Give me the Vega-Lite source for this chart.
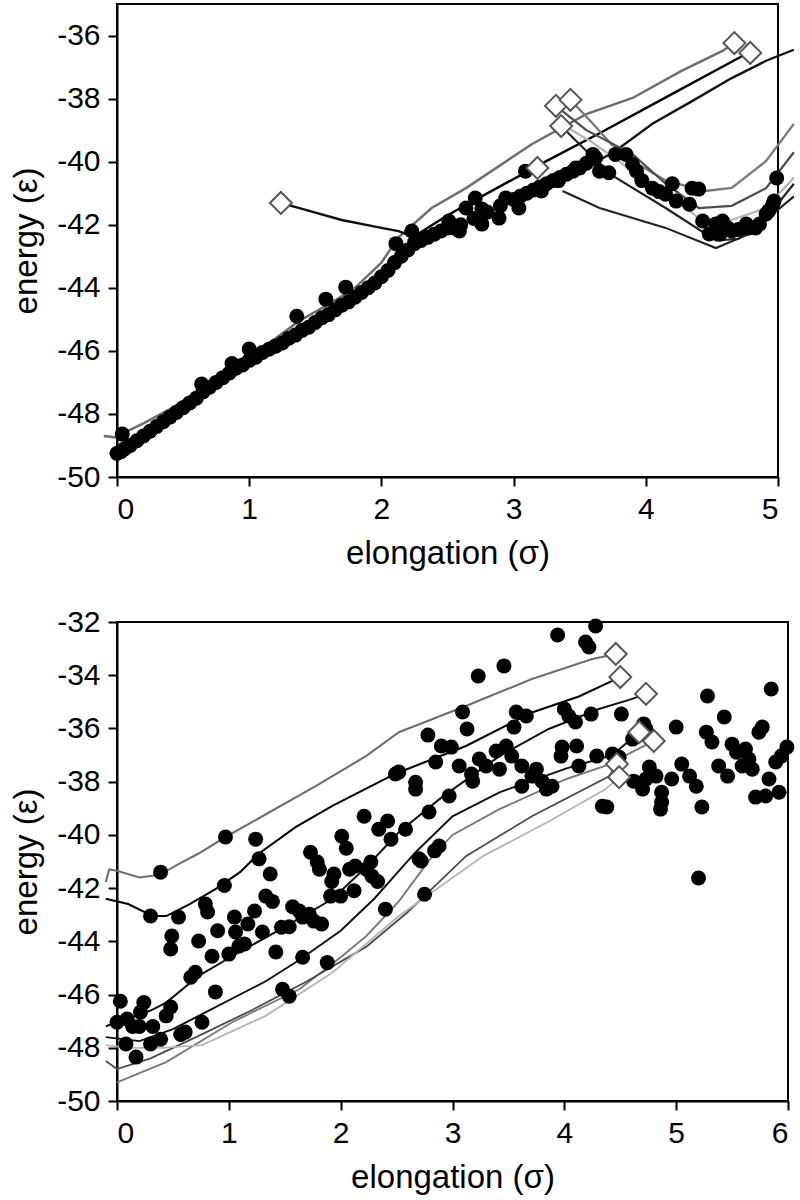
{
  "$schema": "https://vega.github.io/schema/vega-lite/v6.json",
  "background": "white",
  "padding": {"left": 9, "top": 3, "right": 5, "bottom": 5},
  "config": {
    "view": {"stroke": "black", "strokeWidth": 2},
    "axis": {"domainColor": "black", "domainWidth": 2, "tickColor": "black", "tickWidth": 2, "tickSize": 9, "grid": false,
      "labelFont": "Liberation Sans", "labelFontSize": 30, "labelColor": "black", "labelPadding": 8,
      "titleFont": "Liberation Sans", "titleFontSize": 33, "titleFontWeight": "normal", "titleColor": "black", "titlePadding": 13,
      "labelExpr": "'' + datum.value"},
    "concat": {"spacing": 35}
  },
  "datasets": {
    "a_dots": [
      {"x":0.00,"y":-49.25},{"x":0.03,"y":-49.2},{"x":0.06,"y":-49.1},{"x":0.10,"y":-49.0},{"x":0.15,"y":-48.85},{"x":0.20,"y":-48.7},{"x":0.25,"y":-48.55},{"x":0.30,"y":-48.4},{"x":0.35,"y":-48.25},{"x":0.40,"y":-48.1},{"x":0.45,"y":-47.95},{"x":0.50,"y":-47.8},{"x":0.55,"y":-47.65},{"x":0.60,"y":-47.5},{"x":0.65,"y":-47.3},{"x":0.70,"y":-47.15},{"x":0.75,"y":-47.0},{"x":0.80,"y":-46.85},{"x":0.85,"y":-46.7},{"x":0.90,"y":-46.55},{"x":0.95,"y":-46.45},{"x":1.00,"y":-46.3},{"x":1.05,"y":-46.2},{"x":1.10,"y":-46.05},{"x":1.15,"y":-45.95},{"x":1.20,"y":-45.85},{"x":1.25,"y":-45.75},{"x":1.30,"y":-45.6},{"x":1.35,"y":-45.5},{"x":1.40,"y":-45.35},{"x":1.45,"y":-45.25},{"x":1.50,"y":-45.1},{"x":1.55,"y":-44.95},{"x":1.60,"y":-44.85},{"x":1.65,"y":-44.7},{"x":1.70,"y":-44.55},{"x":1.75,"y":-44.45},{"x":1.80,"y":-44.3},{"x":1.85,"y":-44.15},{"x":1.90,"y":-44.0},{"x":1.95,"y":-43.85},{"x":2.00,"y":-43.65},{"x":2.05,"y":-43.45},{"x":2.10,"y":-43.2},{"x":2.15,"y":-43.0},{"x":2.20,"y":-42.8},{"x":2.25,"y":-42.6},{"x":2.30,"y":-42.5},{"x":2.35,"y":-42.4},{"x":2.40,"y":-42.3},{"x":2.45,"y":-42.2},{"x":2.50,"y":-42.1},{"x":2.55,"y":-42.1},{"x":2.60,"y":-42.0},{"x":2.70,"y":-41.8},{"x":2.80,"y":-41.6},{"x":2.90,"y":-41.4},{"x":3.00,"y":-41.2},{"x":3.05,"y":-41.1},{"x":3.10,"y":-41.0},{"x":3.15,"y":-40.9},{"x":3.20,"y":-40.8},{"x":3.25,"y":-40.7},{"x":3.30,"y":-40.6},{"x":3.35,"y":-40.5},{"x":3.40,"y":-40.4},{"x":3.45,"y":-40.3},{"x":3.50,"y":-40.2},{"x":3.55,"y":-40.05},{"x":3.60,"y":-39.9},
      {"x":0.04,"y":-48.64},{"x":0.64,"y":-47.05},{"x":0.87,"y":-46.4},{"x":1.0,"y":-45.94},{"x":1.36,"y":-44.9},{"x":1.58,"y":-44.36},{"x":1.73,"y":-43.98},{"x":2.11,"y":-42.6},{"x":2.23,"y":-42.2},{"x":2.51,"y":-41.88},{"x":2.59,"y":-42.2},{"x":2.64,"y":-41.47},{"x":2.71,"y":-41.15},{"x":2.76,"y":-41.5},{"x":2.76,"y":-41.98},{"x":2.89,"y":-41.79},{"x":2.94,"y":-41.15},{"x":3.04,"y":-41.47},{"x":3.09,"y":-40.3},{"x":3.21,"y":-40.93},{"x":3.34,"y":-40.6},{"x":3.47,"y":-40.2},{"x":3.62,"y":-39.88},{"x":3.6,"y":-39.77},{"x":3.65,"y":-40.3},{"x":3.72,"y":-40.35},{"x":3.77,"y":-39.77},{"x":3.85,"y":-39.77},{"x":3.9,"y":-40.08},{"x":3.93,"y":-40.3},{"x":3.97,"y":-40.6},{"x":4.05,"y":-40.84},{"x":4.1,"y":-40.95},{"x":4.15,"y":-41.03},{"x":4.2,"y":-40.7},{"x":4.23,"y":-41.25},{"x":4.33,"y":-41.35},{"x":4.35,"y":-40.84},{"x":4.4,"y":-40.87},{"x":4.43,"y":-41.88},{"x":4.48,"y":-42.29},{"x":4.53,"y":-41.98},{"x":4.56,"y":-42.3},{"x":4.58,"y":-41.88},{"x":4.62,"y":-42.1},{"x":4.65,"y":-42.2},{"x":4.7,"y":-42.15},{"x":4.76,"y":-41.98},{"x":4.78,"y":-42.1},{"x":4.83,"y":-42.1},{"x":4.86,"y":-41.98},{"x":4.91,"y":-41.66},{"x":4.93,"y":-41.56},{"x":4.96,"y":-41.35},{"x":4.97,"y":-41.25},{"x":4.99,"y":-40.52}
    ],
    "a_lines": [
      {"s":"up","x":-0.1,"y":-48.7},{"s":"up","x":0.0,"y":-48.75},{"s":"up","x":0.05,"y":-48.6},{"s":"up","x":0.2,"y":-48.3},{"s":"up","x":0.4,"y":-47.85},{"s":"up","x":0.62,"y":-47.27},{"s":"up","x":0.8,"y":-46.8},{"s":"up","x":1.0,"y":-46.15},{"s":"up","x":1.2,"y":-45.6},{"s":"up","x":1.38,"y":-45.05},{"s":"up","x":1.63,"y":-44.45},{"s":"up","x":1.8,"y":-44.0},{"s":"up","x":2.0,"y":-43.2},{"s":"up","x":2.13,"y":-42.4},{"s":"up","x":2.38,"y":-41.47},{"s":"up","x":2.64,"y":-40.84},{"s":"up","x":3.14,"y":-39.44},{"s":"up","x":3.55,"y":-38.49},{"s":"up","x":3.9,"y":-37.98},{"s":"up","x":4.27,"y":-37.12},{"s":"up","x":4.58,"y":-36.49},{"s":"up","x":4.67,"y":-36.24},
      {"s":"jag","x":2.2,"y":-42.5},{"s":"jag","x":2.5,"y":-41.7},{"s":"jag","x":2.79,"y":-41.03},{"s":"jag","x":3.24,"y":-40.0},{"s":"jag","x":3.65,"y":-39.1},{"s":"jag","x":4.2,"y":-37.85},{"s":"jag","x":4.73,"y":-36.65},{"s":"jag","x":4.79,"y":-36.55},
      {"s":"conn","x":1.24,"y":-41.31},{"s":"conn","x":1.4,"y":-41.5},{"s":"conn","x":1.7,"y":-41.85},{"s":"conn","x":2.0,"y":-42.1},{"s":"conn","x":2.13,"y":-42.2},{"s":"conn","x":2.25,"y":-42.4},
      {"s":"blk","x":3.5,"y":-40.3},{"s":"blk","x":3.77,"y":-39.66},{"s":"blk","x":4.05,"y":-38.8},{"s":"blk","x":4.35,"y":-38.08},{"s":"blk","x":4.65,"y":-37.35},{"s":"blk","x":4.91,"y":-36.8},{"s":"blk","x":5.12,"y":-36.45},
      {"s":"g1","x":3.43,"y":-38.04},{"s":"g1","x":3.6,"y":-38.8},{"s":"g1","x":3.74,"y":-39.45},{"s":"g1","x":3.95,"y":-40.1},{"s":"g1","x":4.15,"y":-40.6},{"s":"g1","x":4.45,"y":-40.93},{"s":"g1","x":4.65,"y":-40.83},{"s":"g1","x":4.91,"y":-39.98},{"s":"g1","x":5.12,"y":-38.8},
      {"s":"g2","x":3.32,"y":-38.23},{"s":"g2","x":3.55,"y":-39.0},{"s":"g2","x":3.9,"y":-39.76},{"s":"g2","x":4.15,"y":-40.7},{"s":"g2","x":4.4,"y":-41.47},{"s":"g2","x":4.65,"y":-41.4},{"s":"g2","x":4.91,"y":-40.84},{"s":"g2","x":5.12,"y":-39.7},
      {"s":"g3","x":3.4,"y":-38.9},{"s":"g3","x":3.6,"y":-39.4},{"s":"g3","x":3.9,"y":-40.3},{"s":"g3","x":4.2,"y":-41.1},{"s":"g3","x":4.4,"y":-41.8},{"s":"g3","x":4.65,"y":-41.85},{"s":"g3","x":4.91,"y":-41.47},{"s":"g3","x":5.12,"y":-40.5},
      {"s":"b1","x":3.36,"y":-38.87},{"s":"b1","x":3.55,"y":-39.66},{"s":"b1","x":3.77,"y":-40.5},{"s":"b1","x":4.15,"y":-41.47},{"s":"b1","x":4.53,"y":-42.5},{"s":"b1","x":4.7,"y":-42.45},{"s":"b1","x":4.91,"y":-41.8},{"s":"b1","x":5.12,"y":-40.7},
      {"s":"b2","x":3.37,"y":-40.93},{"s":"b2","x":3.65,"y":-41.47},{"s":"b2","x":4.15,"y":-42.1},{"s":"b2","x":4.53,"y":-42.74},{"s":"b2","x":4.78,"y":-42.3},{"s":"b2","x":5.12,"y":-41.1}
    ],
    "a_diam": [
      {"x":1.24,"y":-41.31},{"x":3.18,"y":-40.2},{"x":3.32,"y":-38.23},{"x":3.36,"y":-38.87},{"x":3.43,"y":-38.04},{"x":4.67,"y":-36.24},{"x":4.79,"y":-36.55}
    ],
    "b_dots": [
      {"x":0.03,"y":-46.25},{"x":0.0,"y":-47.04},{"x":0.09,"y":-46.92},{"x":0.14,"y":-47.2},{"x":0.2,"y":-47.2},{"x":0.24,"y":-46.3},{"x":0.21,"y":-46.66},{"x":0.08,"y":-47.86},{"x":0.17,"y":-48.35},{"x":0.32,"y":-47.2},{"x":0.3,"y":-47.86},{"x":0.39,"y":-47.68},{"x":0.44,"y":-46.8},{"x":0.48,"y":-46.47},{"x":0.57,"y":-47.5},{"x":0.61,"y":-47.41},{"x":0.76,"y":-47.04},{"x":0.88,"y":-45.9},{"x":0.66,"y":-45.35},{"x":0.7,"y":-45.16},{"x":0.85,"y":-44.56},{"x":1.0,"y":-44.48},{"x":1.09,"y":-44.18},{"x":1.14,"y":-44.1},{"x":0.73,"y":-43.99},{"x":0.48,"y":-44.29},{"x":0.49,"y":-43.8},{"x":0.55,"y":-43.09},{"x":0.3,"y":-43.05},{"x":0.39,"y":-41.4},{"x":0.79,"y":-42.6},{"x":0.81,"y":-42.9},{"x":0.9,"y":-43.6},{"x":1.05,"y":-43.09},{"x":1.06,"y":-43.65},{"x":0.96,"y":-41.9},{"x":1.17,"y":-43.35},{"x":1.23,"y":-42.86},{"x":1.3,"y":-43.65},{"x":1.27,"y":-40.9},{"x":1.37,"y":-41.47},{"x":1.33,"y":-42.3},{"x":1.39,"y":-42.5},{"x":1.42,"y":-44.4},{"x":1.47,"y":-43.47},{"x":1.54,"y":-43.45},{"x":1.57,"y":-42.7},{"x":1.63,"y":-42.86},{"x":1.66,"y":-43.09},{"x":1.72,"y":-42.98},{"x":1.76,"y":-43.24},{"x":1.83,"y":-43.35},{"x":1.48,"y":-45.8},{"x":1.54,"y":-46.06},{"x":1.66,"y":-44.6},{"x":1.88,"y":-44.8},{"x":1.73,"y":-40.65},{"x":1.79,"y":-41.02},{"x":1.81,"y":-41.29},{"x":1.94,"y":-41.47},{"x":1.92,"y":-41.75},{"x":1.91,"y":-42.3},{"x":2.0,"y":-42.3},{"x":2.08,"y":-41.29},{"x":2.13,"y":-41.17},{"x":2.12,"y":-42.1},{"x":2.23,"y":-41.29},{"x":2.27,"y":-41.02},{"x":2.28,"y":-41.55},{"x":2.33,"y":-41.75},{"x":2.4,"y":-42.79},{"x":2.05,"y":-40.5},
      {"x":2.72,"y":-40.98},{"x":2.75,"y":-42.23},{"x":2.84,"y":-40.6},{"x":5.2,"y":-41.62},
      {"x":0.97,"y":-40.08},{"x":1.24,"y":-40.16},{"x":2.01,"y":-40.05},{"x":2.21,"y":-39.3},{"x":2.34,"y":-39.79},{"x":2.42,"y":-39.48},{"x":2.45,"y":-40.16},{"x":2.49,"y":-37.71},
      {"x":4.28,"y":-32.15},{"x":3.94,"y":-32.49},{"x":4.19,"y":-32.75},{"x":4.22,"y":-32.94},{"x":3.46,"y":-33.65},{"x":3.23,"y":-34.03},{"x":3.09,"y":-35.38},{"x":3.13,"y":-36.02},{"x":2.78,"y":-36.25},{"x":3.55,"y":-35.95},{"x":3.57,"y":-35.38},{"x":3.66,"y":-35.53},{"x":4.0,"y":-35.27},{"x":4.04,"y":-35.53},{"x":4.1,"y":-35.76},{"x":4.24,"y":-35.46},{"x":4.51,"y":-35.46},{"x":4.71,"y":-35.83},{"x":2.9,"y":-36.66},{"x":2.99,"y":-36.7},{"x":2.85,"y":-37.26},{"x":3.06,"y":-37.41},{"x":3.17,"y":-37.71},{"x":3.24,"y":-37.15},{"x":3.3,"y":-37.41},{"x":3.39,"y":-36.85},{"x":3.48,"y":-36.66},{"x":3.53,"y":-37.04},{"x":3.42,"y":-37.53},{"x":3.62,"y":-37.41},{"x":3.75,"y":-37.53},{"x":3.71,"y":-37.79},{"x":3.8,"y":-37.98},{"x":3.84,"y":-38.28},{"x":3.89,"y":-38.17},{"x":3.62,"y":-38.17},{"x":3.18,"y":-37.98},{"x":2.67,"y":-38.02},{"x":2.67,"y":-38.28},{"x":2.52,"y":-37.64},{"x":3.98,"y":-36.7},{"x":4.11,"y":-36.66},{"x":3.97,"y":-37.04},{"x":4.13,"y":-37.41},{"x":4.29,"y":-37.04},{"x":4.43,"y":-36.96},{"x":4.49,"y":-37.08},{"x":4.61,"y":-36.4},{"x":4.73,"y":-36.02},{"x":4.62,"y":-37.98},{"x":4.76,"y":-37.45},{"x":4.73,"y":-37.9},{"x":4.82,"y":-37.79},{"x":5.0,"y":-35.95},{"x":5.05,"y":-37.34},{"x":4.96,"y":-37.9},{"x":5.12,"y":-37.79},{"x":5.18,"y":-38.17},{"x":4.7,"y":-38.28},{"x":4.87,"y":-38.4},{"x":4.87,"y":-38.77},{"x":4.86,"y":-39.03},{"x":4.34,"y":-38.92},{"x":4.38,"y":-38.95},{"x":5.23,"y":-38.95},{"x":5.28,"y":-34.78},{"x":5.43,"y":-35.57},{"x":5.27,"y":-36.14},{"x":5.32,"y":-36.51},{"x":5.38,"y":-37.41},{"x":5.46,"y":-37.79},{"x":5.5,"y":-36.59},{"x":5.54,"y":-36.89},{"x":5.62,"y":-36.77},{"x":5.59,"y":-37.41},{"x":5.68,"y":-37.53},{"x":5.65,"y":-37.15},{"x":5.74,"y":-36.14},{"x":5.77,"y":-35.95},{"x":5.85,"y":-34.52},{"x":5.83,"y":-37.9},{"x":5.71,"y":-38.58},{"x":5.8,"y":-38.54},{"x":5.92,"y":-38.4},{"x":5.89,"y":-37.26},{"x":5.94,"y":-37.04},{"x":5.99,"y":-36.7},
      {"x":2.58,"y":-39.79},{"x":2.7,"y":-40.9},{"x":2.79,"y":-39.14},{"x":2.88,"y":-40.42},{"x":2.97,"y":-38.54}
    ],
    "b_lines": [
      {"s":"t1","x":-0.1,"y":-41.77},{"s":"t1","x":-0.07,"y":-41.3},{"s":"t1","x":0.0,"y":-41.35},{"s":"t1","x":0.2,"y":-41.6},{"s":"t1","x":0.38,"y":-41.5},{"s":"t1","x":0.55,"y":-41.1},{"s":"t1","x":0.73,"y":-40.7},{"s":"t1","x":0.97,"y":-40.08},{"s":"t1","x":1.3,"y":-39.3},{"s":"t1","x":1.78,"y":-38.16},{"s":"t1","x":2.23,"y":-37.03},{"s":"t1","x":2.52,"y":-36.14},{"s":"t1","x":3.12,"y":-35.16},{"s":"t1","x":3.71,"y":-34.14},{"s":"t1","x":4.25,"y":-33.39},{"s":"t1","x":4.46,"y":-33.2},
      {"s":"t2","x":-0.1,"y":-42.4},{"s":"t2","x":0.1,"y":-42.6},{"s":"t2","x":0.32,"y":-43.05},{"s":"t2","x":0.44,"y":-43.05},{"s":"t2","x":0.65,"y":-42.6},{"s":"t2","x":0.88,"y":-42.04},{"s":"t2","x":1.1,"y":-41.4},{"s":"t2","x":1.27,"y":-40.7},{"s":"t2","x":1.6,"y":-39.7},{"s":"t2","x":1.93,"y":-38.9},{"s":"t2","x":2.49,"y":-37.7},{"s":"t2","x":3.12,"y":-36.66},{"s":"t2","x":3.71,"y":-35.4},{"s":"t2","x":4.13,"y":-34.8},{"s":"t2","x":4.4,"y":-34.27},{"s":"t2","x":4.5,"y":-34.07},
      {"s":"m1","x":-0.1,"y":-47.19},{"s":"m1","x":0.1,"y":-46.9},{"s":"m1","x":0.3,"y":-46.6},{"s":"m1","x":0.44,"y":-46.3},{"s":"m1","x":0.73,"y":-45.3},{"s":"m1","x":1.03,"y":-44.56},{"s":"m1","x":1.48,"y":-43.5},{"s":"m1","x":1.93,"y":-42.4},{"s":"m1","x":2.23,"y":-41.2},{"s":"m1","x":2.52,"y":-39.9},{"s":"m1","x":2.9,"y":-38.6},{"s":"m1","x":3.42,"y":-37.04},{"s":"m1","x":3.86,"y":-36.02},{"s":"m1","x":4.31,"y":-35.27},{"s":"m1","x":4.6,"y":-34.9},{"s":"m1","x":4.73,"y":-34.7},
      {"s":"dg","x":-0.1,"y":-47.6},{"s":"dg","x":0.2,"y":-47.75},{"s":"dg","x":0.5,"y":-47.3},{"s":"dg","x":0.73,"y":-46.8},{"s":"dg","x":1.33,"y":-45.5},{"s":"dg","x":1.63,"y":-44.7},{"s":"dg","x":2.0,"y":-43.6},{"s":"dg","x":2.3,"y":-42.4},{"s":"dg","x":2.67,"y":-40.65},{"s":"dg","x":3.0,"y":-39.3},{"s":"dg","x":3.42,"y":-38.4},{"s":"dg","x":4.02,"y":-37.5},{"s":"dg","x":4.43,"y":-37.0},{"s":"dg","x":4.67,"y":-36.14},
      {"s":"jg","x":0.0,"y":-49.3},{"s":"jg","x":0.44,"y":-48.54},{"s":"jg","x":1.03,"y":-47.04},{"s":"jg","x":1.63,"y":-45.8},{"s":"jg","x":2.0,"y":-44.6},{"s":"jg","x":2.23,"y":-43.8},{"s":"jg","x":2.52,"y":-42.5},{"s":"jg","x":2.82,"y":-40.8},{"s":"jg","x":3.0,"y":-40.0},{"s":"jg","x":3.42,"y":-39.03},{"s":"jg","x":4.02,"y":-37.9},{"s":"jg","x":4.37,"y":-37.4},{"s":"jg","x":4.6,"y":-36.9},{"s":"jg","x":4.8,"y":-36.47},
      {"s":"lg","x":-0.1,"y":-48.5},{"s":"lg","x":0.0,"y":-48.8},{"s":"lg","x":0.3,"y":-48.4},{"s":"lg","x":0.73,"y":-47.55},{"s":"lg","x":1.2,"y":-46.6},{"s":"lg","x":1.7,"y":-45.5},{"s":"lg","x":2.23,"y":-44.2},{"s":"lg","x":2.6,"y":-42.9},{"s":"lg","x":3.12,"y":-40.8},{"s":"lg","x":3.71,"y":-39.3},{"s":"lg","x":4.4,"y":-37.8},{"s":"lg","x":4.47,"y":-37.34},
      {"s":"bb","x":-0.1,"y":-47.9},{"s":"bb","x":0.1,"y":-48.0},{"s":"bb","x":0.4,"y":-48.0},{"s":"bb","x":0.76,"y":-47.9},{"s":"bb","x":1.33,"y":-46.8},{"s":"bb","x":1.93,"y":-45.16},{"s":"bb","x":2.52,"y":-43.05},{"s":"bb","x":3.27,"y":-40.8},{"s":"bb","x":3.86,"y":-39.5},{"s":"bb","x":4.37,"y":-38.28},{"s":"bb","x":4.49,"y":-37.83}
    ],
    "b_diam": [
      {"x":4.46,"y":-33.2},{"x":4.5,"y":-34.07},{"x":4.73,"y":-34.7},{"x":4.67,"y":-36.14},{"x":4.8,"y":-36.47},{"x":4.47,"y":-37.34},{"x":4.49,"y":-37.83}
    ]
  },
  "vconcat": [
    {
      "width": 661,
      "height": 473,
      "layer": [
        {
          "data": {"name": "a_lines"},
          "mark": {"type": "line", "clip": false},
          "encoding": {
            "x": {"field": "x", "type": "quantitative", "scale": {"domain": [0, 5], "nice": false, "zero": false}, "axis": {"values": [0,1,2,3,4,5], "title": "elongation (σ)"}},
            "y": {"field": "y", "type": "quantitative", "scale": {"domain": [-50, -35], "nice": false, "zero": false}, "axis": {"values": [-50,-48,-46,-44,-42,-40,-38,-36], "title": "energy (ε)"}},
            "color": {"field": "s", "type": "nominal", "legend": null, "scale": {"domain": ["up","jag","conn","blk","g1","g2","g3","b1","b2"], "range": ["#6e6e6e","#000000","#111111","#111111","#7a7a7a","#4d4d4d","#b5b5b5","#222222","#222222"]}},
            "strokeWidth": {"field": "s", "type": "nominal", "legend": null, "scale": {"domain": ["up","jag","conn","blk","g1","g2","g3","b1","b2"], "range": [2.5,1.8,1.5,2,2.5,2,1.2,1.8,1.8]}}
          }
        },
        {
          "data": {"name": "a_dots"},
          "mark": {"type": "point", "shape": "circle", "filled": true, "color": "black", "opacity": 1, "size": 225},
          "encoding": {
            "x": {"field": "x", "type": "quantitative"},
            "y": {"field": "y", "type": "quantitative"}
          }
        },
        {
          "data": {"name": "a_diam"},
          "mark": {"type": "point", "shape": "diamond", "filled": true, "fill": "white", "stroke": "#555555", "strokeWidth": 2, "opacity": 1, "size": 480},
          "encoding": {
            "x": {"field": "x", "type": "quantitative"},
            "y": {"field": "y", "type": "quantitative"}
          }
        },
        {
          "mark": {"type": "text", "text": "(a)", "font": "Liberation Serif", "fontSize": 30, "align": "left", "baseline": "middle", "color": "black"},
          "encoding": {
            "x": {"datum": 0.16, "type": "quantitative"},
            "y": {"datum": -36.17, "type": "quantitative"}
          }
        }
      ]
    },
    {
      "width": 671,
      "height": 479,
      "layer": [
        {
          "data": {"name": "b_lines"},
          "mark": {"type": "line", "clip": false},
          "encoding": {
            "x": {"field": "x", "type": "quantitative", "scale": {"domain": [0, 6], "nice": false, "zero": false}, "axis": {"values": [0,1,2,3,4,5,6], "title": "elongation (σ)"}},
            "y": {"field": "y", "type": "quantitative", "scale": {"domain": [-50, -32], "nice": false, "zero": false}, "axis": {"values": [-50,-48,-46,-44,-42,-40,-38,-36,-34,-32], "title": "energy (ε)"}},
            "color": {"field": "s", "type": "nominal", "legend": null, "scale": {"domain": ["t1","t2","m1","dg","jg","lg","bb"], "range": ["#111111","#777777","#111111","#5a5a5a","#000000","#a8a8a8","#111111"]}},
            "strokeWidth": {"field": "s", "type": "nominal", "legend": null, "scale": {"domain": ["t1","t2","m1","dg","jg","lg","bb"], "range": [1.2,1.2,2,2.2,1.8,2,1.8]}}
          }
        },
        {
          "data": {"name": "b_dots"},
          "mark": {"type": "point", "shape": "circle", "filled": true, "color": "black", "opacity": 1, "size": 225},
          "encoding": {
            "x": {"field": "x", "type": "quantitative"},
            "y": {"field": "y", "type": "quantitative"}
          }
        },
        {
          "data": {"name": "b_diam"},
          "mark": {"type": "point", "shape": "diamond", "filled": true, "fill": "white", "stroke": "#555555", "strokeWidth": 2, "opacity": 1, "size": 480},
          "encoding": {
            "x": {"field": "x", "type": "quantitative"},
            "y": {"field": "y", "type": "quantitative"}
          }
        },
        {
          "mark": {"type": "text", "text": "(b)", "font": "Liberation Serif", "fontSize": 30, "align": "left", "baseline": "middle", "color": "black"},
          "encoding": {
            "x": {"datum": 0.19, "type": "quantitative"},
            "y": {"datum": -33.5, "type": "quantitative"}
          }
        }
      ]
    }
  ]
}
